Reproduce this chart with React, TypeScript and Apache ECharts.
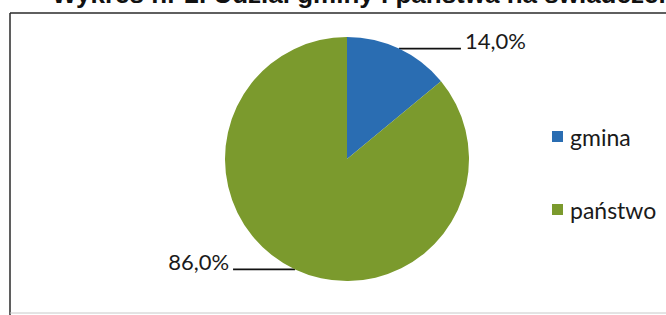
import React, { useEffect, useRef } from "react";
import * as echarts from "echarts";

const categories = ["gmina", "państwo"];
const values = [14.0, 86.0];
const colors = ["#2A6DB2", "#7B9A2D"];
const titleText = "Wykres nr 2. Udział gminy i państwa na świadczenia";

const fmt = (v: number) => v.toFixed(1).replace(".", ",") + "%";

export default function App() {
  const ref = useRef<HTMLDivElement>(null);
  useEffect(() => {
    if (!ref.current) return;
    const chart = echarts.init(ref.current, null, { renderer: "svg" });
    chart.setOption({
      animation: false,
      backgroundColor: "#ffffff",
      color: colors,
      legend: {
        orient: "vertical",
        left: 547,
        top: 120,
        itemWidth: 11,
        itemHeight: 11,
        itemGap: 50,
        icon: "rect",
        textStyle: {
          fontFamily: "Lato",
          fontSize: 23,
          color: "#1a1a1a",
          padding: [0, 0, 0, 2],
        },
        data: categories,
      },
      graphic: [
        {
          type: "text",
          left: 52,
          top: -19,
          style: {
            text: titleText,
            font: "bold 26px 'Liberation Sans', Arial, sans-serif",
            fill: "#111",
          },
        },
        {
          type: "line",
          shape: { x1: 10, y1: 13, x2: 666, y2: 13 },
          style: { stroke: "#2a2a2a", lineWidth: 1.5 },
        },
        {
          type: "line",
          shape: { x1: 10, y1: 13, x2: 10, y2: 315 },
          style: { stroke: "#2a2a2a", lineWidth: 1.5 },
        },
        {
          type: "line",
          shape: { x1: 10, y1: 313, x2: 666, y2: 313 },
          style: { stroke: "#c8c8c8", lineWidth: 1 },
        },
      ],
      series: [
        {
          type: "pie",
          center: [347, 159],
          radius: 122,
          startAngle: 90,
          clockwise: true,
          silent: true,
          avoidLabelOverlap: false,
          data: categories.map((c, i) => ({ name: c, value: values[i] })),
          label: {
            show: true,
            position: "outside",
            formatter: (p: any) => "{a|" + fmt(p.value) + "}\n{b|}",
            distanceToLabelLine: 4,
            rich: {
              a: {
                fontFamily: "Lato",
                fontSize: 22,
                lineHeight: 22,
                color: "#1a1a1a",
              },
              b: { fontSize: 10, lineHeight: 16 },
            },
          },
          labelLine: {
            show: true,
            length: 0,
            length2: 62,
            smooth: false,
            lineStyle: { color: "#111", width: 1.6 },
          },
          itemStyle: { borderWidth: 0 },
        },
      ],
    });
    return () => chart.dispose();
  }, []);
  return (
    <div
      ref={ref}
      style={{ position: "fixed", left: 0, top: 0, width: 666, height: 315 }}
    />
  );
}
